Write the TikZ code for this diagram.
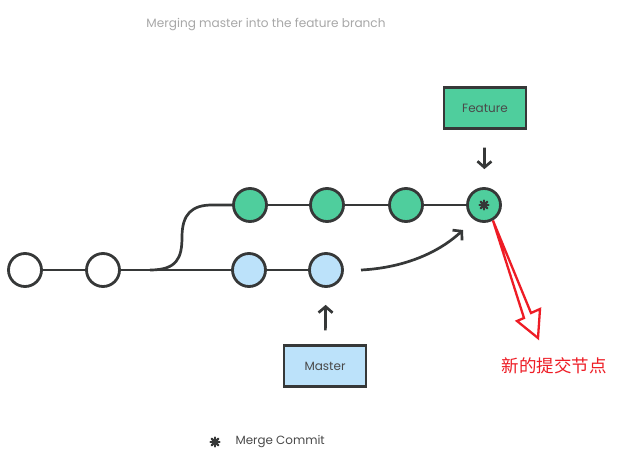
\documentclass[tikz,border=0pt]{standalone}
\usepackage{fontspec}
\setmainfont{Poppins}
\newfontfamily\cjkfont{Noto Sans CJK SC}
\usetikzlibrary{arrows.meta}
\definecolor{ink}{HTML}{363838}
\definecolor{gitgreen}{HTML}{4FCE9D}
\definecolor{gitblue}{HTML}{BCE2FA}
\definecolor{txtgray}{HTML}{A8A8A8}
\definecolor{labelgray}{HTML}{4A4A4A}
\definecolor{annored}{HTML}{EE1C25}
\tikzset{
  commit/.style={circle,draw=ink,line width=2.8pt,minimum size=33pt,inner sep=0pt},
  whitec/.style={commit,fill=white},
  greenc/.style={commit,fill=gitgreen},
  bluec/.style={commit,fill=gitblue},
  branchbox/.style={rectangle,draw=ink,line width=2.4pt,minimum width=82pt,minimum height=41pt,font=\fontsize{12}{14}\selectfont,text=labelgray},
  link/.style={draw=ink,line width=2.7pt},
  pointer/.style={draw=ink,line width=2.7pt,-{Straight Barb[length=6pt,width=14pt,line width=2.7pt]}},
  starline/.style={ink,line width=2.4pt,line cap=round},
}
\begin{document}
\begin{tikzpicture}[x=1pt,y=-1pt]
\fill[white] (0,0) rectangle (626,471);
\useasboundingbox (0,0) rectangle (626,471);

\node[text=txtgray,font=\fontsize{12.1}{14}\selectfont] (title) at (266,25) {Merging master into the feature branch};

% commits
\node[whitec] (c1) at (25,270) {};
\node[whitec] (c2) at (103,270) {};
\node[bluec] (b1) at (249,270) {};
\node[bluec] (b2) at (326,270) {};
\node[greenc] (g1) at (250,205) {};
\node[greenc] (g2) at (327,205) {};
\node[greenc] (g3) at (406,205) {};
\node[greenc] (m) at (484,205) {};
% merge star
\foreach \a in {0,45,90,135}
  \draw[starline] (m.center) ++(\a:4.5pt) -- ++(\a+180:9pt);

% branch boxes
\node[branchbox,fill=gitgreen] (feature) at (485,108) {Feature};
\node[branchbox,fill=gitblue] (master) at (325,366) {Master};

% links
\coordinate (fork) at (150,270);
\draw[link] (c1) -- (c2);
\draw[link] (c2) -- (b1);
\draw[link] (b1) -- (b2);
\draw[link] (g1) -- (g2);
\draw[link] (g2) -- (g3);
\draw[link] (g3) -- (m);
\draw[link] (fork) .. controls (177,270) and (182,258) .. (182,237)
  .. controls (182,214) and (192,205) .. (212,205) -- (g1);

% pointers
\draw[pointer,shorten <=18pt,shorten >=18pt] (feature) -- (m);
\draw[pointer,shorten <=14pt,shorten >=17pt] (master) -- (b2);
\coordinate (cs) at (361,270);
\coordinate (ce) at (463,230);
\draw[pointer] (cs) .. controls (400,268) and (436,255) .. (ce);

% legend
\coordinate (lg) at (215,442);
\foreach \a in {0,45,90,135}
  \draw[starline] (lg) ++(\a:4.5pt) -- ++(\a+180:9pt);
\node[anchor=west,text=labelgray,font=\fontsize{11.9}{14}\selectfont] (legend) at (232,442) {Merge Commit};

% annotation
\draw[annored,line width=2.3pt,line join=miter] (m.300) -- (531,313) -- (540,309) -- (538,338) -- (517,321) -- (524,318) -- cycle;
\node[text=annored,font=\cjkfont\fontsize{17.5}{20}\selectfont] (note) at (554,366) {新的提交节点};
\end{tikzpicture}
\end{document}
